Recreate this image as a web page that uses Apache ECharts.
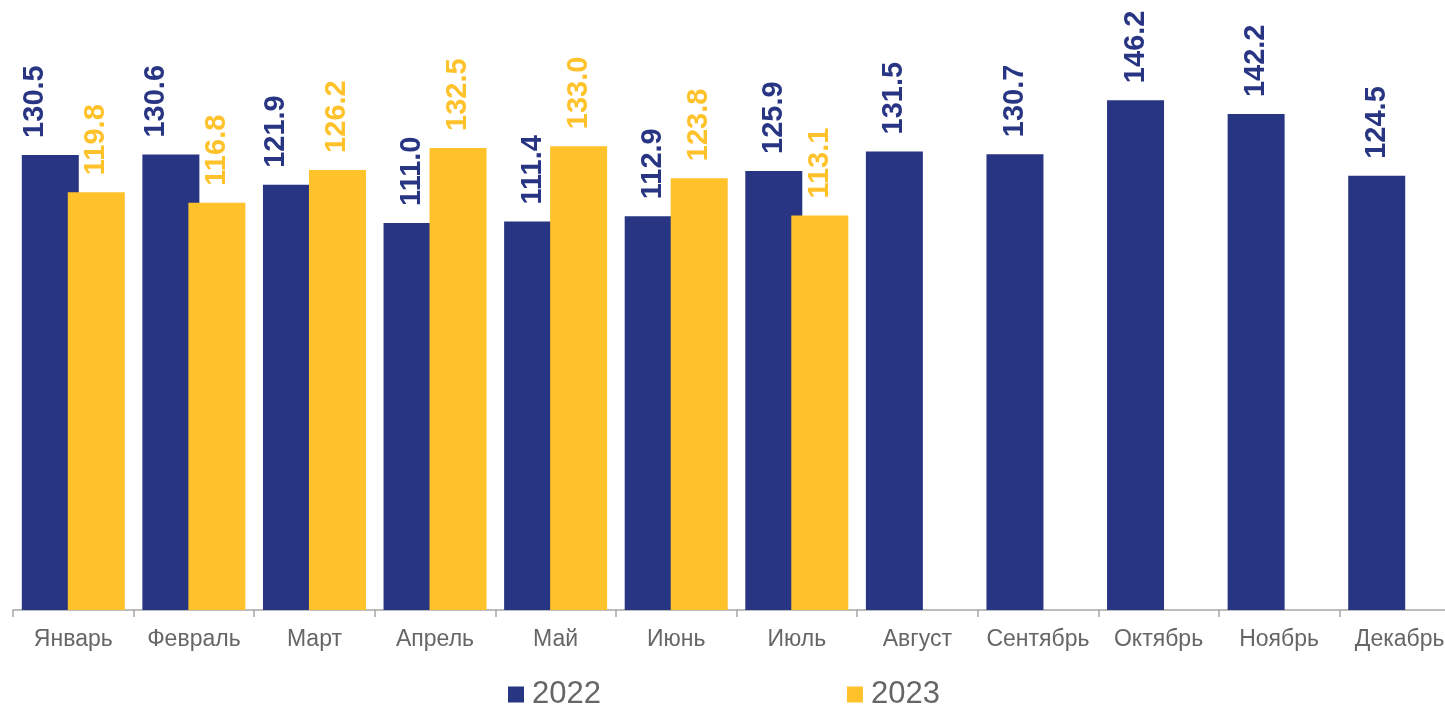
<!DOCTYPE html>
<html><head><meta charset="utf-8">
<script src="https://cdn.jsdelivr.net/npm/echarts@6/dist/echarts.min.js"></script>
<style>html,body{margin:0;padding:0;background:#fff;overflow:hidden}#c{width:1460px;height:707px}</style>
</head><body><div id="c"></div>
<script>
const months = ['Январь','Февраль','Март','Апрель','Май','Июнь','Июль','Август','Сентябрь','Октябрь','Ноябрь','Декабрь'];
const values2022 = [130.5,130.6,121.9,111.0,111.4,112.9,125.9,131.5,130.7,146.2,142.2,124.5];
const values2023 = [119.8,116.8,126.2,132.5,133.0,123.8,113.1,null,null,null,null,null];
const seriesNames = ['2022','2023'];
const NAVY = '#283583', YELLOW = '#FFC22B';

const chart = echarts.init(document.getElementById('c'));
function lbl(color){
  return {show:true, position:'top', rotate:90, distance:17, align:'left', verticalAlign:'middle',
    color:color, fontFamily:'Liberation Sans, Arial', fontWeight:'bold', fontSize:29,
    formatter:p=>p.value==null?'':Number(p.value).toFixed(1)};
}
chart.setOption({
  animation:false,
  grid:{left:13, right:0, top:52, bottom:97, containLabel:false},
  legend:{left:508, top:679, padding:0, itemWidth:16, itemHeight:16, itemGap:246, icon:'rect',
    textStyle:{fontFamily:'Liberation Sans, Arial', fontSize:31, color:'#666666', padding:[0,0,0,3]},
    data:seriesNames},
  xAxis:{type:'category', data:months, boundaryGap:true,
    axisLine:{lineStyle:{color:'#a6a6a6', width:1.5}},
    axisTick:{show:true, length:7, lineStyle:{color:'#a6a6a6', width:1.5}},
    axisLabel:{interval:0, color:'#666666', fontFamily:'Liberation Sans, Arial', fontSize:23, margin:18}},
  yAxis:{type:'value', min:0, max:160, show:false, splitLine:{show:false}},
  series:[
    {name:seriesNames[0], type:'bar', barWidth:57, barGap:'-19.3%', itemStyle:{color:NAVY},
     data: values2022.map((v,i)=> i<3 ? {value:v, label:{offset:[0,-15]}} : v),
     label:lbl(NAVY)},
    {name:seriesNames[1], type:'bar', barWidth:57, barGap:'-19.3%', itemStyle:{color:YELLOW},
     data: values2023, label:lbl(YELLOW)}
  ]
});
</script></body></html>
